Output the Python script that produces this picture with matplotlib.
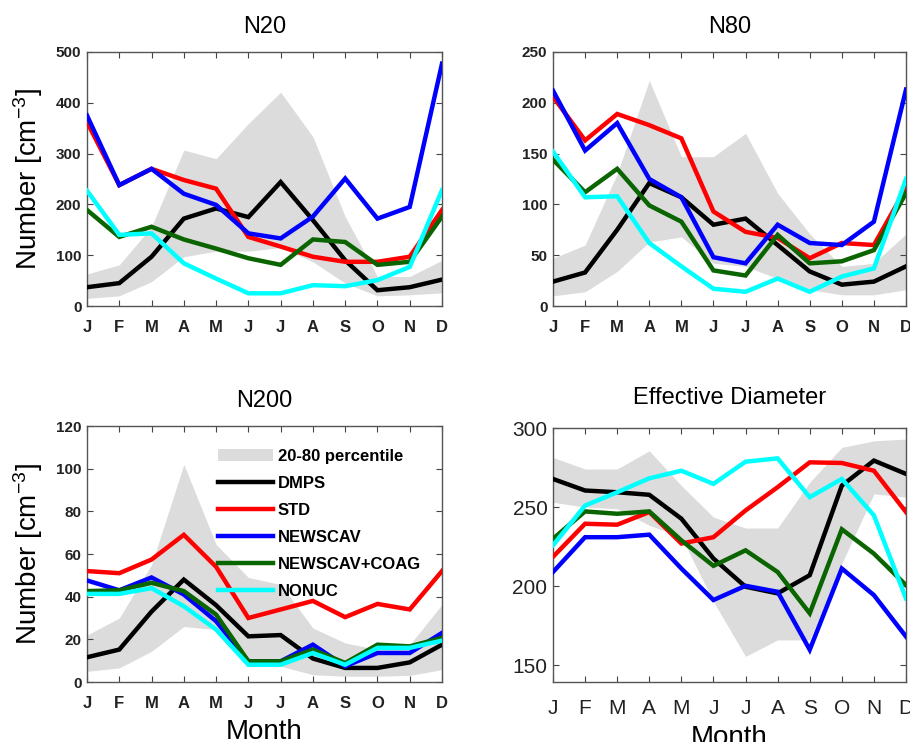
import matplotlib
matplotlib.use("Agg")
import matplotlib.pyplot as plt
import numpy as np

plt.rcParams['font.family'] = ['Liberation Sans', 'DejaVu Sans']
plt.rcParams['mathtext.fontset'] = 'custom'
plt.rcParams['mathtext.rm'] = 'Liberation Sans'
plt.rcParams['mathtext.it'] = 'Liberation Sans:italic'
plt.rcParams['mathtext.bf'] = 'Liberation Sans:bold'

months = ['J', 'F', 'M', 'A', 'M', 'J', 'J', 'A', 'S', 'O', 'N', 'D']
series_names = ['DMPS', 'STD', 'NEWSCAV', 'NEWSCAV+COAG', 'NONUC']
series_colors = ['#000000', '#ff0000', '#0000ff', '#0a6400', '#00ffff']
band_label = '20-80 percentile'

# N20
n20_dmps = [37, 45, 97, 172, 192, 175, 244, 169, 90, 31, 37, 52]
n20_std = [362, 238, 270, 248, 231, 136, 117, 97, 87, 87, 97, 189]
n20_newscav = [375, 238, 270, 221, 199, 143, 133, 176, 251, 172, 195, 477]
n20_coag = [189, 136, 156, 131, 113, 94, 81, 131, 126, 81, 87, 176]
n20_nonuc = [227, 140, 143, 84, 54, 25, 25, 41, 39, 51, 77, 228]
n20_hi = [63, 81, 156, 307, 290, 359, 421, 333, 176, 58, 58, 90]
n20_lo = [15, 20, 48, 97, 108, 108, 115, 87, 45, 20, 22, 26]

# N80
n80_dmps = [24, 33, 75, 121, 107, 80, 86, 60, 34, 21, 24, 39]
n80_std = [206, 163, 189, 178, 165, 93, 73, 67, 47, 62, 60, 116]
n80_newscav = [212, 153, 180, 125, 107, 48, 42, 80, 62, 60, 83, 213]
n80_coag = [144, 112, 135, 99, 83, 35, 30, 70, 42, 44, 55, 111]
n80_nonuc = [152, 107, 108, 62, 39, 17, 14, 27, 14, 29, 37, 125]
n80_hi = [47, 60, 130, 222, 147, 147, 170, 111, 71, 39, 42, 71]
n80_lo = [10, 14, 34, 63, 68, 42, 39, 27, 16, 11, 11, 16]

# N200
n200_dmps = [11.6, 15.2, 33, 48, 36, 21.4, 22, 11, 6.6, 6.6, 9.2, 17.5]
n200_std = [52, 51, 57.4, 69, 54, 30, 34, 38, 30.4, 36.6, 34, 52]
n200_newscav = [47.6, 43, 49, 41, 28.5, 9.7, 9.7, 17.5, 7.4, 13.6, 13.6, 23]
n200_coag = [42.6, 43, 46.5, 42.6, 31.6, 9.7, 9.7, 15.2, 8.9, 17.5, 16.7, 20.7]
n200_nonuc = [41.3, 41.3, 44, 35.5, 24.6, 8.1, 8.1, 13.6, 8.1, 16, 16, 19.4]
n200_hi = [22, 30, 55, 102, 64.5, 49, 45.7, 25.3, 18.3, 15.2, 17.5, 36.3]
n200_lo = [5, 6.6, 14.4, 26, 24.6, 8.1, 7.4, 3.4, 2.7, 2.7, 3.1, 5.8]

# Effective diameter
dp_dmps = [267.8, 260.5, 259.4, 257.8, 242.7, 217.5, 199.7, 195.5, 207, 263.6, 279.4, 271]
dp_std = [218.6, 239.5, 238.9, 246.9, 227, 231, 247.9, 262.6, 278.3, 277.9, 273, 246.9]
dp_newscav = [209, 231, 231, 232.6, 211.2, 191.3, 200.3, 196.5, 159.9, 211.2, 194.4, 168.2]
dp_coag = [230, 247.3, 245.8, 247.3, 229, 212.9, 222.7, 209, 182.9, 236, 220.6, 200.7]
dp_nonuc = [225.9, 251, 259.4, 268.2, 273, 264.7, 278.7, 280.8, 256.3, 267.8, 244.8, 192.3]
dp_hi = [281.4, 274.1, 274.1, 285.6, 263.6, 243.7, 236.8, 236.8, 265.7, 287.7, 291.9, 293]
dp_lo = [253.1, 250, 249, 238.5, 231.1, 190.3, 155.7, 166.1, 166.1, 214.4, 258.4, 256.3]

W, H = 910, 742
fig = plt.figure(figsize=(W / 100, H / 100), dpi=100)


def ax_at(l, t, r, b):
    return fig.add_axes([l / W, 1 - b / H, (r - l) / W, (b - t) / H])


x = np.arange(1, 13)
panels = [
    dict(rect=(87, 52, 442, 306), title='N20', ylim=(0, 500), yt=[0, 100, 200, 300, 400, 500],
         data=[n20_dmps, n20_std, n20_newscav, n20_coag, n20_nonuc], band=(n20_lo, n20_hi),
         ylabel=True, xlabel=False, big=False, legend=False, tpad=14),
    dict(rect=(553, 52, 906, 306), title='N80', ylim=(0, 250), yt=[0, 50, 100, 150, 200, 250],
         data=[n80_dmps, n80_std, n80_newscav, n80_coag, n80_nonuc], band=(n80_lo, n80_hi),
         ylabel=False, xlabel=False, big=False, legend=False, tpad=14),
    dict(rect=(87, 426, 442, 682), title='N200', ylim=(0, 120), yt=[0, 20, 40, 60, 80, 100, 120],
         data=[n200_dmps, n200_std, n200_newscav, n200_coag, n200_nonuc], band=(n200_lo, n200_hi),
         ylabel=True, xlabel=True, big=False, legend=True, tpad=14),
    dict(rect=(553, 428, 906, 682), title='Effective Diameter', ylim=(139.5, 300), yt=[150, 200, 250, 300],
         data=[dp_dmps, dp_std, dp_newscav, dp_coag, dp_nonuc], band=(dp_lo, dp_hi),
         ylabel=False, xlabel=True, big=True, legend=False, tpad=17),
]

for p in panels:
    ax = ax_at(*p['rect'])
    lo, hi = p['band']
    band = ax.fill_between(x, lo, hi, color='#dcdcdc', linewidth=0, label=band_label, zorder=1)
    handles = [band]
    for vals, name, col in zip(p['data'], series_names, series_colors):
        ln, = ax.plot(x, vals, color=col, lw=3.2, label=name, zorder=3,
                      solid_joinstyle='miter')
        handles.append(ln)
    ax.set_xlim(1, 12)
    ax.set_ylim(*p['ylim'])
    ax.set_xticks(x)
    ax.set_xticklabels(months)
    ax.set_yticks(p['yt'])
    ax.tick_params(direction='in', top=True, right=True, length=4, width=0.8, color='#444444')
    for s in ax.spines.values():
        s.set_color('#555555')
        s.set_linewidth(1.0)
    if p['big']:
        ax.tick_params(axis='y', labelsize=15, pad=4)
        ax.tick_params(axis='x', labelsize=15, pad=12)
        for t in ax.get_xticklabels() + ax.get_yticklabels():
            t.set_color('#222222')
    else:
        ax.tick_params(axis='y', labelsize=11, pad=4)
        ax.tick_params(axis='x', labelsize=12, pad=10)
        for t in ax.get_xticklabels() + ax.get_yticklabels():
            t.set_fontweight('bold')
            t.set_color('#222222')
    ax.set_title(p['title'], fontsize=17, pad=p['tpad'])
    if p['ylabel']:
        ax.set_ylabel('Number [cm$^{-3}$]', fontsize=20, labelpad=8)
    if p['xlabel']:
        ax.set_xlabel('Month', fontsize=20, labelpad=6 if not p['big'] else 5)
    if p['legend']:
        ax.legend(handles=handles, loc='upper left', bbox_to_anchor=(0.369, 0.912),
                  frameon=False, handlelength=3.3, handletextpad=0.3,
                  labelspacing=0.72, borderpad=0, borderaxespad=0,
                  prop={'weight': 'bold', 'size': 12})

fig.savefig('out.png', dpi=100)
